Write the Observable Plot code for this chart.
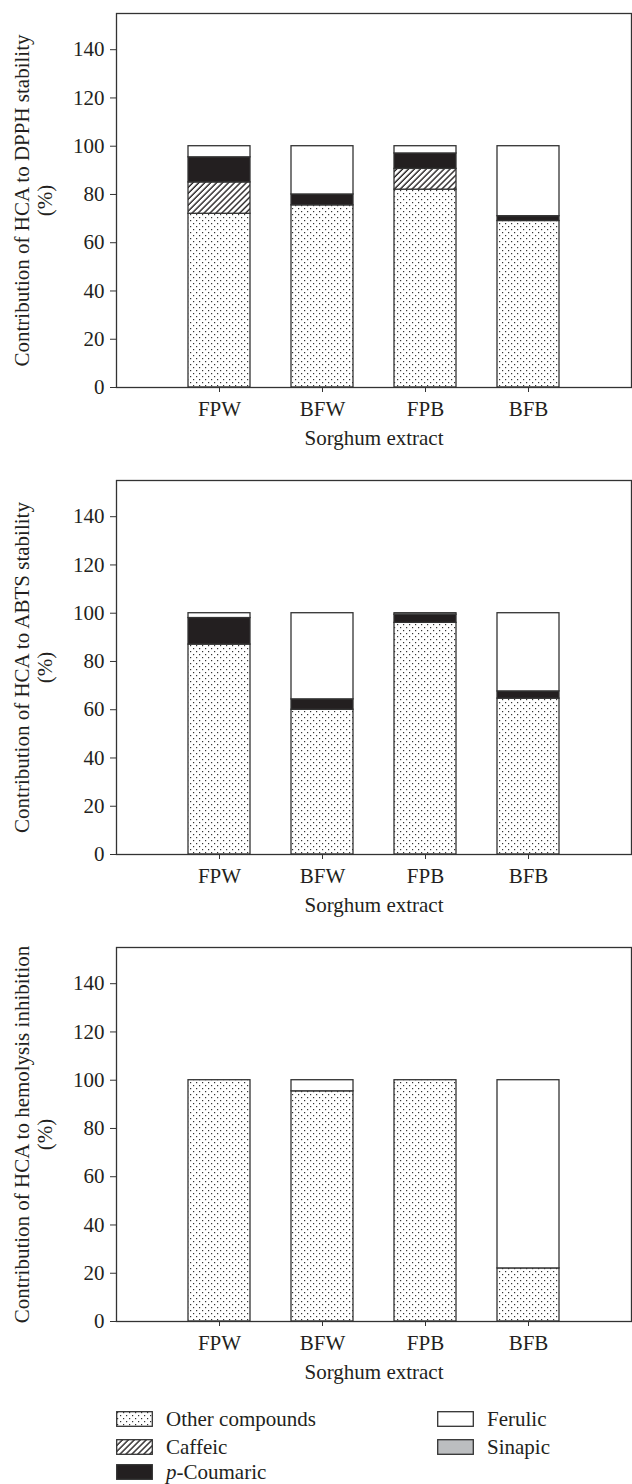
<!DOCTYPE html>
<html>
<head>
<meta charset="utf-8">
<script src="https://cdn.jsdelivr.net/npm/d3@7"></script>
<script src="https://cdn.jsdelivr.net/npm/@observablehq/plot@0.6"></script>
<style>
  html, body { margin: 0; padding: 0; background: #fff; }
  body { width: 632px; font-family: "Liberation Serif", serif; color: #231f20; }
  #legend { position: relative; height: 83px; font-size: 21px; }
  .item { position: absolute; display: flex; align-items: center; height: 26px; }
  .item svg { margin-right: 13px; }
</style>
</head>
<body>
<svg width="0" height="0" style="position:absolute">
  <defs>
    <pattern id="dots" patternUnits="userSpaceOnUse" width="6" height="6">
      <rect width="6" height="6" fill="#fff"/>
      <rect x="1" y="1" width="1.2" height="1.2" fill="#333"/>
      <rect x="4" y="4" width="1.2" height="1.2" fill="#333"/>
    </pattern>
    <pattern id="hatch" patternUnits="userSpaceOnUse" width="4.2" height="10" patternTransform="rotate(45)">
      <rect width="4.2" height="10" fill="#fff"/>
      <line x1="1" y1="0" x2="1" y2="10" stroke="#231f20" stroke-width="1.4"/>
    </pattern>
  </defs>
</svg>
<div id="charts"></div>
<div id="legend"></div>
<script>
const extracts = ["FPW", "BFW", "FPB", "BFB"];
const components = ["Other compounds", "Caffeic", "p-Coumaric", "Ferulic", "Sinapic"];
const componentFills = ["url(#dots)", "url(#hatch)", "#231f20", "#ffffff", "#bcbec0"];
const yTicks = [0, 20, 40, 60, 80, 100, 120, 140];

// DPPH stability
const dpphOther    = [72, 75.5, 82, 69];
const dpphCaffeic  = [13, 0, 8.6, 0];
const dpphCoumaric = [10.4, 4.5, 6.4, 2];
const dpphFerulic  = [4.6, 20, 3, 29];
const dpphSinapic  = [0, 0, 0, 0];

// ABTS stability
const abtsOther    = [87, 60, 96, 64.6];
const abtsCaffeic  = [0, 0, 0, 0];
const abtsCoumaric = [11, 4.3, 3.4, 3];
const abtsFerulic  = [2, 35.7, 0.6, 32.4];
const abtsSinapic  = [0, 0, 0, 0];

// Hemolysis inhibition
const hemoOther    = [100, 95.4, 100, 22];
const hemoCaffeic  = [0, 0, 0, 0];
const hemoCoumaric = [0, 0, 0, 0];
const hemoFerulic  = [0, 4.6, 0, 78];
const hemoSinapic  = [0, 0, 0, 0];

const yLabels = [
  "Contribution of HCA to DPPH stability",
  "Contribution of HCA to ABTS stability",
  "Contribution of HCA to hemolysis inhibition"
];
const xLabel = "Sorghum extract";

const panelSeries = [
  [dpphOther, dpphCaffeic, dpphCoumaric, dpphFerulic, dpphSinapic],
  [abtsOther, abtsCaffeic, abtsCoumaric, abtsFerulic, abtsSinapic],
  [hemoOther, hemoCaffeic, hemoCoumaric, hemoFerulic, hemoSinapic]
];

const charts = document.getElementById("charts");

panelSeries.forEach((series, p) => {
  const rows = [];
  extracts.forEach((e, i) => {
    components.forEach((c, j) => {
      const v = series[j][i];
      if (v > 0) rows.push({extract: e, component: c, value: v});
    });
  });
  const chart = Plot.plot({
    width: 632,
    height: 467,
    marginTop: 13,
    marginBottom: 80,
    marginLeft: 116,
    marginRight: 1,
    style: {fontFamily: "Liberation Serif, serif", fontSize: "21px", color: "#231f20", background: "#fff"},
    x: {domain: extracts, paddingInner: 0.4, paddingOuter: 0.7, label: null},
    y: {domain: [0, 155], label: null},
    color: {type: "ordinal", domain: components, range: componentFills},
    marks: [
      Plot.barY(rows, {x: "extract", y: "value", fill: "component", order: components,
                       stroke: "#333", strokeWidth: 1.3}),
      Plot.frame({stroke: "#333", strokeWidth: 1.3}),
      Plot.axisY({ticks: yTicks, tickSize: 6, tickPadding: 6, label: null, stroke: "#333"}),
      Plot.axisX({tickSize: 5, tickPadding: 9, label: null, stroke: "#333"}),
      Plot.text([yLabels[p] + "\n(%)"], {frameAnchor: "left", dx: -83, rotate: -90,
                                         textAnchor: "middle", lineAnchor: "middle",
                                         lineHeight: 1.1, fill: "#231f20"}),
      Plot.text([xLabel], {frameAnchor: "bottom", dy: 51, lineAnchor: "middle", fill: "#231f20"})
    ]
  });
  chart.style.display = "block";
  charts.appendChild(chart);
});

// Legend
const legend = document.getElementById("legend");
const legendPos = [
  {left: 116, top: 5}, {left: 116, top: 33}, {left: 116, top: 58},
  {left: 437, top: 5}, {left: 437, top: 33}
];
const legendOrder = [0, 1, 2, 3, 4];
legendOrder.forEach((ci, k) => {
  const div = document.createElement("div");
  div.className = "item";
  div.style.left = legendPos[k].left + "px";
  div.style.top = legendPos[k].top + "px";
  const name = components[ci];
  const label = name.startsWith("p-") ? "<i>p</i>" + name.slice(1) : name;
  div.innerHTML = `<svg width="37" height="16"><rect x="0.7" y="0.7" width="35.6" height="14.6" fill="${componentFills[ci]}" stroke="#333" stroke-width="1.3"/></svg><span>${label}</span>`;
  legend.appendChild(div);
});
</script>
</body>
</html>
